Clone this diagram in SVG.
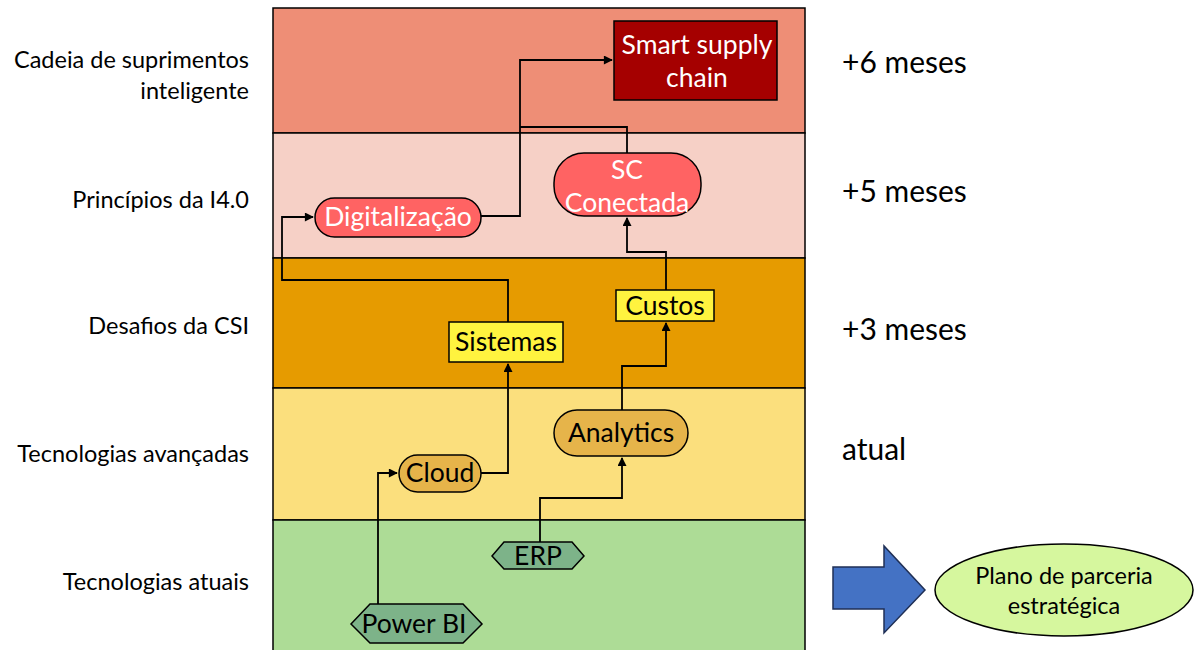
<svg xmlns="http://www.w3.org/2000/svg" width="1194" height="650" viewBox="0 0 1194 650">
<style>
.lbl{font-family:Lato,"Liberation Sans",sans-serif;font-size:23.5px;fill:#000;text-anchor:end}
.time{font-family:Lato,"Liberation Sans",sans-serif;font-size:30px;fill:#000}
.nt{font-family:Lato,"Liberation Sans",sans-serif;font-size:26.5px;text-anchor:middle}
.w{fill:#fff}
.k{fill:#000}
.band{stroke:#000;stroke-width:1.5}
.node{stroke:#000;stroke-width:1.5}
.con{fill:none;stroke:#000;stroke-width:1.8}
</style>
<defs>
<marker id="ah" viewBox="0 0 10 10" refX="9" refY="5" markerWidth="10" markerHeight="9" orient="auto" markerUnits="userSpaceOnUse">
<path d="M0,0 L10,5 L0,10 z" fill="#000"/>
</marker>
</defs>
<rect width="1194" height="650" fill="#fff"/>
<g id="bands">
<rect class="band" x="273" y="8" width="532" height="125" fill="#EE8E76"/>
<rect class="band" x="273" y="133" width="532" height="125" fill="#F6D0C6"/>
<rect class="band" x="273" y="258" width="532" height="130" fill="#E69B00"/>
<rect class="band" x="273" y="388" width="532" height="132" fill="#FBDF7D"/>
<rect class="band" x="273" y="520" width="532" height="135" fill="#ADDC96"/>
</g>
<g id="row-labels">
<text class="lbl" x="249" y="68">Cadeia de suprimentos</text>
<text class="lbl" x="249" y="99">inteligente</text>
<text class="lbl" x="249" y="208">Princípios da I4.0</text>
<text class="lbl" x="249" y="334">Desafios da CSI</text>
<text class="lbl" x="249" y="462">Tecnologias avançadas</text>
<text class="lbl" x="249" y="590">Tecnologias atuais</text>
</g>
<g id="time-labels">
<text class="time" x="842" y="73">+6 meses</text>
<text class="time" x="842" y="202">+5 meses</text>
<text class="time" x="842" y="340">+3 meses</text>
<text class="time" x="842" y="460">atual</text>
</g>
<g id="connectors">
<path class="con" d="M378,604 V473 H397" marker-end="url(#ah)"/>
<path class="con" d="M481,473 H508 V364" marker-end="url(#ah)"/>
<path class="con" d="M540,542 V498 H622 V458" marker-end="url(#ah)"/>
<path class="con" d="M622,410 V366 H666 V323" marker-end="url(#ah)"/>
<path class="con" d="M666,290 V252 H627 V218" marker-end="url(#ah)"/>
<path class="con" d="M508,322 V280 H282 V217 H313" marker-end="url(#ah)"/>
<path class="con" d="M481,216 H520 V60 H612" marker-end="url(#ah)"/>
<path class="con" d="M627,153 V127 H520"/>
</g>
<g id="smart-supply-chain">
<rect class="node" x="614" y="21" width="163" height="79" fill="#A50000"/>
<text class="nt w" x="697" y="54">Smart supply</text>
<text class="nt w" x="697" y="87">chain</text>
</g>
<g id="sc-conectada">
<rect class="node" x="554" y="153" width="147" height="63" rx="30" fill="#FF6363"/>
<text class="nt w" x="627" y="179">SC</text>
<text class="nt w" x="627" y="212">Conectada</text>
</g>
<g id="digitalizacao">
<rect class="node" x="315" y="198" width="166" height="39" rx="19.5" fill="#FF6363"/>
<text class="nt w" x="398" y="226">Digitalização</text>
</g>
<g id="custos">
<rect class="node" x="616" y="290" width="98" height="31" fill="#FFF33F"/>
<text class="nt k" x="665" y="315">Custos</text>
</g>
<g id="sistemas">
<rect class="node" x="449" y="322" width="114" height="40" fill="#FFF33F"/>
<text class="nt k" x="506" y="351">Sistemas</text>
</g>
<g id="analytics">
<rect class="node" x="554" y="410" width="134" height="46" rx="23" fill="#E6B44A"/>
<text class="nt k" x="621" y="442">Analytics</text>
</g>
<g id="cloud">
<rect class="node" x="399" y="455" width="82" height="37" rx="18.5" fill="#E6B44A"/>
<text class="nt k" x="440" y="482">Cloud</text>
</g>
<g id="erp">
<polygon class="node" points="492,556 504,542 572,542 584,556 572,569 504,569" fill="#7DB389"/>
<text class="nt k" x="538" y="565">ERP</text>
</g>
<g id="power-bi">
<polygon class="node" points="351,624 370,604 463,604 482,624 463,643 370,643" fill="#7DB389"/>
<text class="nt k" x="414" y="633">Power BI</text>
</g>
<g id="block-arrow">
<polygon points="833,567 884,567 884,546 925,590 884,633 884,609 833,609" fill="#4472C4" stroke="#1F2F55" stroke-width="1.5"/>
</g>
<g id="plano">
<ellipse cx="1064" cy="590" rx="129" ry="46" fill="#D6F79E" stroke="#000" stroke-width="1.5"/>
<text class="nt k" x="1064" y="584" style="font-size:23.5px">Plano de parceria</text>
<text class="nt k" x="1064" y="614" style="font-size:23.5px">estratégica</text>
</g>
</svg>
